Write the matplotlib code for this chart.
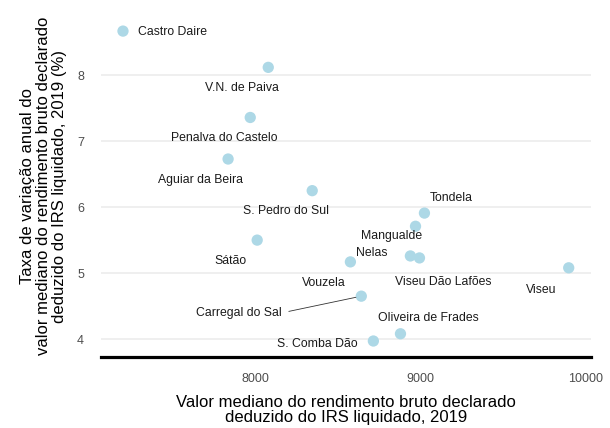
import matplotlib
matplotlib.use("Agg")
import matplotlib.pyplot as plt

plt.rcParams['font.family'] = ['Liberation Sans', 'DejaVu Sans']

municipios = ["Castro Daire", "V.N. de Paiva", "Penalva do Castelo", "Aguiar da Beira",
              "S. Pedro do Sul", "Sátão", "Vouzela", "Carregal do Sal", "S. Comba Dão",
              "Oliveira de Frades", "Nelas", "Mangualde", "Tondela", "Viseu Dão Lafões", "Viseu"]
rendimento = [7200, 8079, 7970, 7836, 8345, 8012, 8576, 8642, 8715, 8879, 8939, 8970, 9024, 8994, 9897]
variacao = [8.67, 8.12, 7.36, 6.73, 6.25, 5.50, 5.17, 4.65, 3.97, 4.08, 5.26, 5.71, 5.91, 5.23, 5.08]

x_ticks = [8000, 9000, 10000]
y_ticks = [4, 5, 6, 7, 8]

# label offsets (points) relative to each point: style/position only
label_offsets = [(36, -1), (-19, -15), (-19, -15), (-20, -15), (-19, -15), (-19, -15),
                 (-19, -15), (-88, -12), (-40, -2), (20, 11), (-28, 2), (-17, -7),
                 (19, 11), (17, -17), (-20, -16)]

W, H = 610, 428
fig = plt.figure(figsize=(W / 100, H / 100), dpi=100)
ax = fig.add_axes([100.7 / W, 1 - 356.5 / H, (591 - 100.7) / W, (356.5 - 15.6) / H])

ax.scatter(rendimento, variacao, s=66, color="#ADD8E6", edgecolors="none", zorder=3)

for name, x, y, off in zip(municipios, rendimento, variacao, label_offsets):
    if name == "Carregal do Sal":
        ax.annotate(name, (x, y), xytext=off, textcoords="offset points",
                    ha="center", va="center", fontsize=8.8, color="#1a1a1a",
                    arrowprops=dict(arrowstyle="-", color="#333333", lw=0.6,
                                    shrinkA=3, shrinkB=4, relpos=(1, 0.5)))
    else:
        ax.annotate(name, (x, y), xytext=off, textcoords="offset points",
                    ha="center", va="center", fontsize=8.8, color="#1a1a1a")

xmin, xmax = min(rendimento), max(rendimento)
ymin, ymax = min(variacao), max(variacao)
xr, yr = xmax - xmin, ymax - ymin
ax.set_xlim(xmin - 0.05 * xr, xmax + 0.05 * xr)
ax.set_ylim(ymin - 0.05 * yr, ymax + 0.05 * yr)

ax.set_xticks(x_ticks)
ax.set_yticks(y_ticks)
ax.set_xticklabels([str(v) for v in x_ticks])
ax.set_yticklabels([str(v) for v in y_ticks])
ax.tick_params(length=0, labelsize=9, colors="#4D4D4D")
ax.tick_params(axis="x", pad=12)
ax.tick_params(axis="y", pad=12)

ax.grid(axis="y", color="#EBEBEB", lw=1.1)
ax.grid(axis="x", visible=False)
ax.set_axisbelow(True)
for s in ["top", "right", "left"]:
    ax.spines[s].set_visible(False)
ax.spines["bottom"].set_color("black")
ax.spines["bottom"].set_linewidth(2.3)
ax.spines["bottom"].set_zorder(4)

ax.set_xlabel("Valor mediano do rendimento bruto declarado\ndeduzido do IRS liquidado, 2019",
              fontsize=12, color="black", labelpad=7, linespacing=1.02)
ax.set_ylabel("Taxa de variação anual do\nvalor mediano do rendimento bruto declarado\ndeduzido do IRS liquidado, 2019 (%)",
              fontsize=12, color="black", labelpad=7, linespacing=1.08)

fig.savefig("out.png", dpi=100, facecolor="white")
